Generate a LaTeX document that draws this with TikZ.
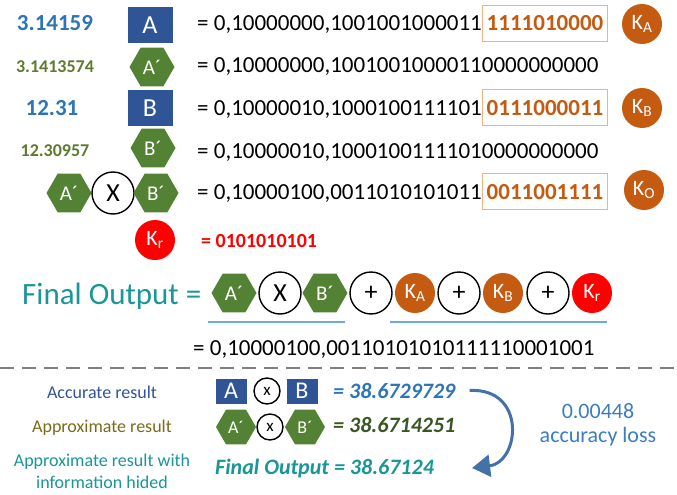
\documentclass[tikz,border=0pt]{standalone}
\usepackage{fontspec}
\setmainfont{Carlito}
\usetikzlibrary{shapes.geometric,arrows.meta,positioning}
\definecolor{boxblue}{HTML}{2F5597}
\definecolor{numblue}{HTML}{2E75B6}
\definecolor{hexgreen}{HTML}{548235}
\definecolor{numgreen}{HTML}{5E7A2C}
\definecolor{keyorange}{HTML}{C55A11}
\definecolor{boxorange}{HTML}{F4B183}
\definecolor{outteal}{HTML}{1A9696}
\definecolor{olivetxt}{HTML}{7A6A1A}
\definecolor{darkgreen}{HTML}{385723}
\definecolor{lineblue}{HTML}{6FA8DC}
\definecolor{arrowblue}{HTML}{4472A8}
\definecolor{lossblue}{HTML}{3C7DC0}
\newcommand{\fsz}[1]{\fontsize{#1}{#1}\selectfont}
\begin{document}
\begin{tikzpicture}[x=1pt,y=-1pt,
  sqbox/.style={fill=boxblue, text=white, minimum width=45, minimum height=36, inner sep=0, font=\fsz{26}},
  hexa/.style={regular polygon, regular polygon sides=6, fill=hexgreen, text=white, minimum size=45, inner sep=0, font=\fsz{21}},
  keyc/.style={circle, fill=keyorange, text=white, minimum size=40, inner sep=0, font=\fsz{22}},
  opc/.style={circle, draw=black, line width=1.4, minimum size=42, inner sep=0, font=\fsz{26}},
  numtxt/.style={anchor=base, inner sep=0},
  bits/.style={anchor=base west, inner sep=0, font=\fsz{23}},
  keybits/.style={anchor=base west, draw=boxorange, line width=1, text=keyorange, font=\fsz{23}\bfseries, minimum width=125, minimum height=36, inner xsep=1},
  uline/.style={lineblue, line width=1.6},
  loss/.style={arrowblue, line width=3, -{Triangle[length=18pt,width=22pt]}}]
\useasboundingbox (0,0) rectangle (677,495);

\node[numtxt, text=numblue, font=\fsz{23}\bfseries] (nA) at (55,31) {3.14159};
\node[sqbox] (A) at (150,25) {A};
\node[bits] (rA) at (197,31) {= 0,10000000,1001001000011};
\node[keybits] (kbA) at (rA.base east) {1111010000};
\node[keyc] (KA) at (642,24) {K\textsubscript{A}};

\node[numtxt, text=numgreen, font=\fsz{18}\bfseries] (nAp) at (55,72) {3.1413574};
\node[hexa] (Ap) at (152,67) {A´};
\node[bits] (rAp) at (197,72) {= 0,10000000,10010010000110000000000};

\node[numtxt, text=numblue, font=\fsz{23}\bfseries] (nB) at (52,115) {12.31};
\node[sqbox] (B) at (150,108) {B};
\node[bits] (rB) at (197,115) {= 0,10000010,1000100111101};
\node[keybits] (kbB) at (rB.base east) {0111000011};
\node[keyc] (KB) at (642,108) {K\textsubscript{B}};

\node[numtxt, text=numgreen, font=\fsz{18}\bfseries] (nBp) at (55,156) {12.30957};
\node[hexa] (Bp) at (153,148) {B´};
\node[bits] (rBp) at (197,158) {= 0,10000010,10001001111010000000000};

\node[hexa] (Ap2) at (69,193) {A´};
\node[opc] (mul) at (113,193) {X};
\node[hexa] (Bp2) at (156,193) {B´};
\node[bits] (rO) at (197,199) {= 0,10000100,0011010101011};
\node[keybits] (kbO) at (rO.base east) {0011001111};
\node[keyc] (KO) at (644,190) {K\textsubscript{O}};

\node[keyc, fill=red] (Kr) at (155,240) {K\textsubscript{r}};
\node[bits, text=red, font=\fsz{20}\bfseries] (rKr) at (201,247) {= 0101010101};

\node[bits, text=outteal, font=\fsz{31}] (fo) at (22,304) {Final Output =};
\node[hexa] (Ap3) at (234,293) {A´};
\node[opc] (mul3) at (280,293) {X};
\node[hexa] (Bp3) at (325,293) {B´};
\node[opc] (plus1) at (371,293) {+};
\node[keyc] (KA3) at (415,293) {K\textsubscript{A}};
\node[opc] (plus2) at (459,293) {+};
\node[keyc] (KB3) at (503,293) {K\textsubscript{B}};
\node[opc] (plus3) at (548,293) {+};
\node[keyc, fill=red] (Kr3) at (592,293) {K\textsubscript{r}};
\draw[uline] (208,322) -- (345,322);
\draw[uline] (390,322) -- (607,322);
\node[bits] (res) at (193,355) {= 0,10000100,00110101010111110001001};

\draw[gray, line width=1.5, dash pattern=on 14pt off 8pt] (0,368) -- (677,368);

\node[numtxt, text=boxblue, font=\fsz{18}] (lacc) at (102,398) {Accurate result};
\node[sqbox, minimum width=31, minimum height=25, font=\fsz{24}] (A4) at (231,391) {A};
\node[opc, minimum size=26, font=\fsz{17}] (mul4) at (267,391) {x};
\node[sqbox, minimum width=31, minimum height=25, font=\fsz{24}] (B4) at (302,391) {B};
\node[bits, text=numblue, font=\fsz{22}\bfseries\itshape] (vacc) at (333,398) {= 38.6729729};

\node[numtxt, text=olivetxt, font=\fsz{18}] (lapp) at (102,432) {Approximate result};
\node[hexa, minimum size=40, font=\fsz{18}] (Ap5) at (236,427) {A´};
\node[opc, minimum size=26, font=\fsz{17}] (mul5) at (270,427) {x};
\node[hexa, minimum size=40, font=\fsz{18}] (Bp5) at (305,427) {B´};
\node[bits, text=darkgreen, font=\fsz{22}\bfseries\itshape] (vapp) at (333,432) {= 38.6714251};

\node[numtxt, text=outteal, font=\fsz{18}] (lhid) at (102,466) {Approximate result with};
\node[numtxt, text=outteal, font=\fsz{18}] (lhid2) at (102,488) {information hided};
\node[bits, text=outteal, font=\fsz{22}\bfseries\itshape] (vhid) at (215,474) {Final Output = 38.67124};

\draw[loss] ([xshift=14]vacc.east) .. controls +(57,-3) and +(48,-6) .. ([xshift=38]vhid.east);
\node[numtxt, text=lossblue, font=\fsz{22}] (l1) at (598,418) {0.00448};
\node[numtxt, text=lossblue, font=\fsz{22}] (l2) at (598,442) {accuracy loss};
\end{tikzpicture}
\end{document}
